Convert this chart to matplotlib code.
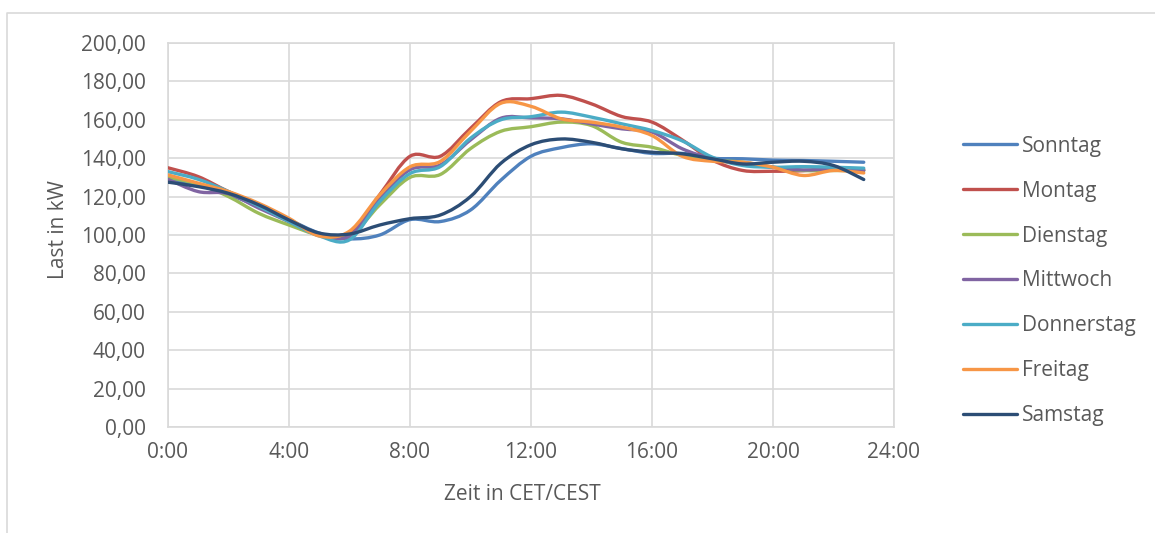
import matplotlib
matplotlib.use('Agg')
import matplotlib.pyplot as plt
from matplotlib.path import Path
from matplotlib.patches import PathPatch
from matplotlib.lines import Line2D
from matplotlib.ticker import FuncFormatter, MultipleLocator
import numpy as np

plt.rcParams['font.family'] = ['Open Sans', 'DejaVu Sans']

# hourly load values in kW
hours = list(range(24))

sonntag = [129, 126, 121, 115, 108, 101, 98, 100, 108, 107, 113, 128.5,
           141, 145.5, 147.5, 145, 142.5, 142.5, 140, 139.7, 139, 138.8, 138.4, 137.9]
montag = [135, 130.4, 122.6, 115.7, 107, 100, 100.5, 121, 141, 141, 155.5, 169.4,
          171, 172.7, 168.3, 161.7, 158.8, 149.5, 139, 133.6, 133.2, 133.5, 135, 134]
dienstag = [130, 126.5, 120, 111.3, 105.2, 100, 99.5, 115.7, 130, 131.5, 145, 154,
            156.4, 158.8, 157, 148.3, 145.7, 141.4, 139, 137.9, 135.3, 133.6, 133.6, 133.6]
mittwoch = [129, 122.6, 121.5, 114, 107, 100, 99.5, 119, 134, 136.5, 149.5, 160.8,
            161, 160.5, 157.9, 155.3, 153.6, 144.9, 139.7, 137, 135.3, 133.9, 134.4, 133.6]
donnerstag = [133, 129, 122.6, 115, 107, 99.5, 97.5, 117.4, 132, 135.6, 150.4, 160,
              161.6, 164, 161.4, 157.9, 154.4, 149, 140.5, 136.2, 135.3, 135.6, 135.3, 134.8]
freitag = [131.3, 127, 122.6, 116.5, 108.7, 99.5, 102, 120.9, 135.5, 138.3, 154, 168.6,
           167, 160.5, 158.8, 156.2, 151.8, 141, 138.4, 137.9, 135.3, 131, 133.6, 132.3]
samstag = [127.5, 125.2, 121.7, 115.7, 107.8, 101, 100.5, 105.2, 108.5, 110.4, 120, 137.3,
           147, 150, 148.3, 144.9, 143.1, 142.3, 139.7, 137, 137.9, 138.4, 136.2, 128.9]

series = [('Sonntag', sonntag, '#4F81BD'),
          ('Montag', montag, '#C0504D'),
          ('Dienstag', dienstag, '#9BBB59'),
          ('Mittwoch', mittwoch, '#8064A2'),
          ('Donnerstag', donnerstag, '#4BACC6'),
          ('Freitag', freitag, '#F79646'),
          ('Samstag', samstag, '#2C4D75')]

TEXT = '#595959'
GRID = '#D9D9D9'
FS = 15


def smooth_path(x, y):
    # Excel-like smoothed line: cubic Bezier segments through every data point
    p = np.column_stack([x, y]).astype(float)
    ext = np.vstack([p[0], p, p[-1]])
    verts = [p[0]]
    codes = [Path.MOVETO]
    for i in range(len(p) - 1):
        c1 = ext[i + 1] + (ext[i + 2] - ext[i]) / 6
        c2 = ext[i + 2] - (ext[i + 3] - ext[i + 1]) / 6
        verts += [c1, c2, ext[i + 2]]
        codes += [Path.CURVE4] * 3
    return Path(verts, codes)


fig = plt.figure(figsize=(11.55, 5.33), dpi=100)
ax = fig.add_axes([168 / 1155, 1 - 427 / 533, 726 / 1155, 384 / 533])

handles = []
for name, vals, col in series:
    ax.add_patch(PathPatch(smooth_path(hours, vals), facecolor='none', edgecolor=col,
                           lw=2.4, capstyle='round', joinstyle='round', zorder=3))
    handles.append(Line2D([], [], color=col, lw=2.4, solid_capstyle='round', label=name))

ax.set_xlim(0, 24)
ax.set_ylim(0, 200)
ax.xaxis.set_major_locator(MultipleLocator(4))
ax.yaxis.set_major_locator(MultipleLocator(20))
ax.xaxis.set_major_formatter(FuncFormatter(lambda v, p: f'{int(v)}:00'))
ax.yaxis.set_major_formatter(FuncFormatter(lambda v, p: f'{v:.2f}'.replace('.', ',')))
ax.grid(True, color=GRID, lw=1.2, zorder=0)
ax.set_axisbelow(True)
for s in ax.spines.values():
    s.set_color(GRID)
    s.set_linewidth(1.2)
ax.tick_params(axis='both', length=0, labelsize=FS, labelcolor=TEXT)
ax.tick_params(axis='y', pad=16)
ax.tick_params(axis='x', pad=11)

ax.set_ylabel('Last in kW', fontsize=FS, color=TEXT)
ax.set_xlabel('Zeit in CET/CEST', fontsize=FS, color=TEXT)
ax.yaxis.set_label_coords(-0.136, 0.513)
ax.xaxis.set_label_coords(0.4876, -0.148)

fig.legend(handles=handles, loc='center left', bbox_to_anchor=(963 / 1155, 1 - 281 / 533),
           frameon=False, fontsize=FS, labelcolor=TEXT, handlelength=2.6,
           handletextpad=0.25, labelspacing=1.15, borderpad=0, borderaxespad=0)

# chart area border (top and left edges visible)
fig.add_artist(Line2D([7 / 1155, 7 / 1155, 1], [0, 1 - 13 / 533, 1 - 13 / 533],
                      transform=fig.transFigure, color=GRID, lw=1.2))

fig.savefig('out.png', dpi=100)
